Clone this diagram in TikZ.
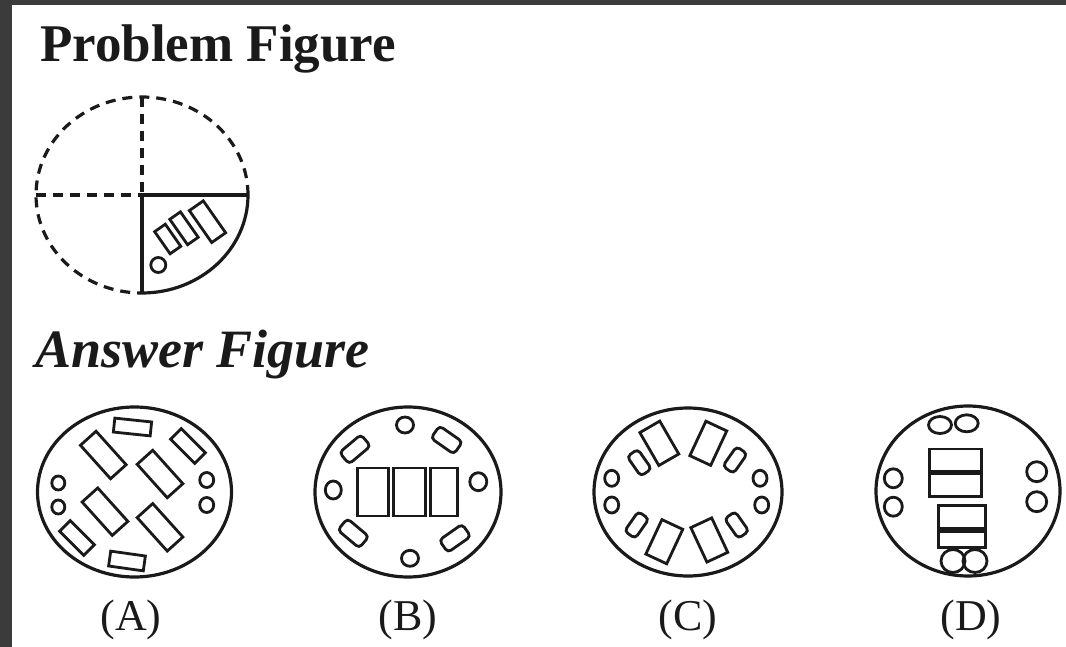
\documentclass[tikz,border=0pt]{standalone}
\usepackage{fontspec}
\setmainfont{Liberation Serif}
\usepackage{tikz}
\usetikzlibrary{positioning,shapes.geometric}
\definecolor{ink}{HTML}{1A1A1A}
\definecolor{frame}{HTML}{3B3B3B}

\begin{document}
\begin{tikzpicture}[x=1pt, y=-1pt,
  ttl/.style={font=\fontsize{53}{56}\selectfont\bfseries, anchor=base west, inner sep=0pt, text=ink},
  lbl/.style={font=\fontsize{44}{46}\selectfont, anchor=base, inner sep=0pt, text=ink},
  rim/.style={draw=ink, line width=3.2pt},
  dashrim/.style={rim, dash pattern=on 10pt off 7pt},
  blk/.style={draw=ink, line width=2.8pt, rectangle, inner sep=0pt},
  rblk/.style={blk, rounded corners=4pt},
  dot/.style={draw=ink, line width=2.8pt, ellipse, inner sep=0pt}]

% background and frame
\useasboundingbox (0,0) rectangle (1066,647);
\fill[frame] (0,0) rectangle (1066,647);
\fill[white] (12,5) rectangle (1066,647);

% headings
\node[ttl] (ttlprob) at (40,62) {Problem Figure};
\node[ttl, font=\fontsize{54}{56}\selectfont\bfseries\itshape] (ttlans) at (35,367) {Answer Figure};

% problem figure
\coordinate (pc) at (142,195);
\coordinate (ptop) at (142,97);
\coordinate (pbot) at (142,293);
\coordinate (pleft) at (36,195);
\coordinate (pright) at (248,195);
\draw[dashrim] (pright) arc[start angle=0, end angle=270, x radius=106pt, y radius=98pt];
\draw[rim] (pright) arc[start angle=0, end angle=-90, x radius=106pt, y radius=98pt];
\draw[dashrim] (ptop) -- (pc);
\draw[dashrim] (pleft) -- (pc);
\draw[rim] (pc) -- (pbot);
\draw[rim] (pc) -- (pright);
\node[dot, minimum width=15pt, minimum height=15pt] (pdot) at (158.3,265) {};
\node[blk, minimum width=27pt, minimum height=13pt, rotate=-55] (pb1) at (167.7,239) {};
\node[blk, minimum width=31pt, minimum height=13pt, rotate=-55] (pb2) at (184,228.3) {};
\node[blk, minimum width=39pt, minimum height=17pt, rotate=-55] (pb3) at (207.5,221.7) {};

% answer A
\node[rim, ellipse, minimum width=194pt, minimum height=170pt, inner sep=0pt] (fa) at (134.5,492) {};
\node[blk, minimum width=37pt, minimum height=14pt, rotate=-6] (a1) at (132.5,427) {};
\node[blk, minimum width=34pt, minimum height=15pt, rotate=-45] (a2) at (188,446) {};
\node[blk, minimum width=34pt, minimum height=15pt, rotate=-45] (a3) at (77,538) {};
\node[blk, minimum width=35pt, minimum height=15pt, rotate=-8] (a4) at (127,561) {};
\node[blk, minimum width=45pt, minimum height=21pt, rotate=-48] (a5) at (103.3,455) {};
\node[blk, minimum width=45pt, minimum height=21pt, rotate=-48] (a6) at (160,474) {};
\node[blk, minimum width=45pt, minimum height=21pt, rotate=-48] (a7) at (105,511.7) {};
\node[blk, minimum width=45pt, minimum height=21pt, rotate=-48] (a8) at (160,527.3) {};
\node[dot, minimum width=14pt, minimum height=15pt] (a9) at (206.7,480) {};
\node[dot, minimum width=14pt, minimum height=15pt] (a10) at (206.7,505) {};
\node[dot, minimum width=13pt, minimum height=14pt] (a11) at (58.3,483) {};
\node[dot, minimum width=13pt, minimum height=14pt] (a12) at (58.3,507) {};
\node[lbl] (la) at (131,630) {(A)};

% answer B
\node[rim, ellipse, minimum width=186pt, minimum height=170pt, inner sep=0pt] (fb) at (408,492) {};
\node[blk, minimum width=31pt, minimum height=48pt] (b1) at (373,492) {};
\node[blk, minimum width=32pt, minimum height=48pt, right=2pt of b1] (b2) {};
\node[blk, minimum width=27pt, minimum height=48pt, right=2pt of b2] (b3) {};
\node[dot, minimum width=17pt, minimum height=16pt] (b4) at (405,425) {};
\node[dot, minimum width=17pt, minimum height=18pt] (b5) at (478.3,481.7) {};
\node[dot, minimum width=17pt, minimum height=16pt] (b6) at (410,558.3) {};
\node[dot, minimum width=16pt, minimum height=18pt] (b7) at (333.3,490) {};
\node[rblk, minimum width=28pt, minimum height=15pt, rotate=40] (b8) at (355,449.3) {};
\node[rblk, minimum width=28pt, minimum height=15pt, rotate=-35] (b9) at (446.7,440) {};
\node[rblk, minimum width=28pt, minimum height=15pt, rotate=-40] (b10) at (353.3,533.3) {};
\node[rblk, minimum width=28pt, minimum height=15pt, rotate=35] (b11) at (455,538.3) {};
\node[lbl] (lb) at (408,630) {(B)};

% answer C
\node[rim, ellipse, minimum width=188pt, minimum height=168pt, inner sep=0pt] (fc) at (688,492) {};
\node[blk, minimum width=23pt, minimum height=38pt, rotate=30] (c1) at (659.3,443.3) {};
\node[blk, minimum width=23pt, minimum height=38pt, rotate=-25] (c2) at (708.3,443.3) {};
\node[blk, minimum width=23pt, minimum height=38pt, rotate=-25] (c3) at (664.3,541.7) {};
\node[blk, minimum width=23pt, minimum height=38pt, rotate=25] (c4) at (709.3,540) {};
\node[rblk, minimum width=13pt, minimum height=24pt, rotate=35] (c5) at (639.3,462.7) {};
\node[rblk, minimum width=13pt, minimum height=24pt, rotate=-35] (c6) at (735,460) {};
\node[rblk, minimum width=13pt, minimum height=24pt, rotate=-35] (c7) at (636.7,525) {};
\node[rblk, minimum width=13pt, minimum height=24pt, rotate=35] (c8) at (736.7,525) {};
\node[dot, minimum width=14pt, minimum height=16pt] (c9) at (611.7,478.3) {};
\node[dot, minimum width=14pt, minimum height=16pt] (c10) at (611.7,505) {};
\node[dot, minimum width=14pt, minimum height=16pt] (c11) at (760,478.3) {};
\node[dot, minimum width=14pt, minimum height=16pt] (c12) at (761.7,505) {};
\node[lbl] (lc) at (688,630) {(C)};

% answer D
\node[rim, ellipse, minimum width=184pt, minimum height=170pt, inner sep=0pt] (fd) at (968,491) {};
\node[dot, minimum width=23pt, minimum height=17pt] (d1) at (940,425) {};
\node[dot, minimum width=23pt, minimum height=17pt] (d2) at (966.7,423.3) {};
\node[blk, minimum width=52pt, minimum height=22pt] (d3) at (955.8,460) {};
\node[blk, minimum width=52pt, minimum height=23pt, below=0pt of d3] (d4) {};
\node[blk, minimum width=47pt, minimum height=23pt] (d5) at (961.7,517) {};
\node[blk, minimum width=47pt, minimum height=16pt, below=0pt of d5] (d6) {};
\node[dot, minimum width=24pt, minimum height=23pt] (d7) at (953,561) {};
\node[dot, minimum width=24pt, minimum height=23pt] (d8) at (975,561) {};
\node[dot, minimum width=18pt, minimum height=19pt] (d9) at (893.3,478.3) {};
\node[dot, minimum width=18pt, minimum height=19pt] (d10) at (893.3,506.7) {};
\node[dot, minimum width=20pt, minimum height=20pt] (d11) at (1036.7,471.7) {};
\node[dot, minimum width=20pt, minimum height=20pt] (d12) at (1036.7,501.7) {};
\node[lbl] (ld) at (971,630) {(D)};
\end{tikzpicture}
\end{document}
